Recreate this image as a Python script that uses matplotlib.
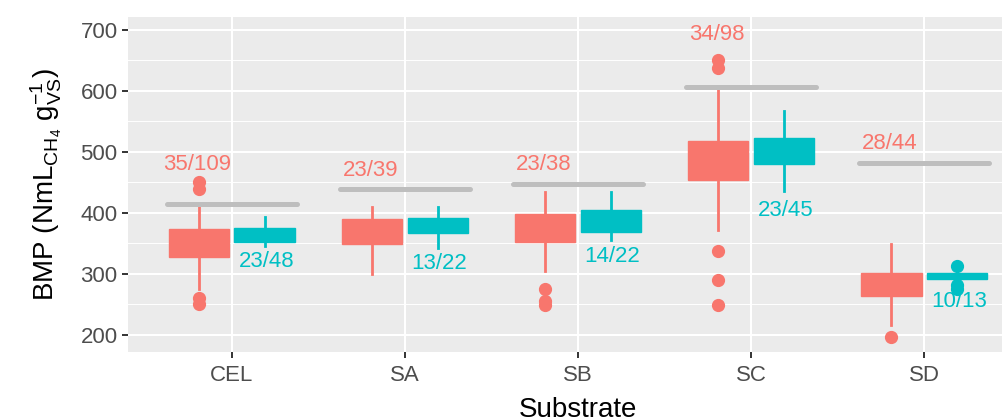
import numpy as np
import matplotlib.pyplot as plt

plt.rcParams["font.family"] = ["Liberation Sans", "DejaVu Sans"]
plt.rcParams["mathtext.fontset"] = "custom"
plt.rcParams["mathtext.rm"] = "Liberation Sans"
plt.rcParams["mathtext.it"] = "Liberation Sans:italic"

substrates = ["CEL", "SA", "SB", "SC", "SD"]

# first group (salmon)
a_q1 = [328, 349, 352, 454, 263]
a_med = [352, 372, 376, 488, 282]
a_q3 = [373, 390, 398, 517, 301]
a_lo = [276, 300, 305, 372, 216]
a_hi = [409, 409, 434, 602, 349]
a_fliers = [[451, 439, 261, 251], [], [275, 256, 249], [651, 637, 338, 290, 249], [197]]
a_counts = ["35/109", "23/39", "23/38", "34/98", "28/44"]
a_label_y = [479, 469, 479, 693, 513]

# second group (teal)
b_q1 = [352, 367, 368, 480, 291]
b_med = [365, 380, 388, 503, 297]
b_q3 = [376, 391, 405, 522, 301]
b_lo = [345, 342, 356, 436, 291]
b_hi = [393, 409, 434, 567, 301]
b_fliers = [[], [], [], [], [313, 281, 276]]
b_counts = ["23/48", "13/22", "14/22", "23/45", "10/13"]
b_label_y = [320, 317, 329, 404, 255]

# reference BMP per substrate
ref_bmp = [415, 439, 448, 606, 481]

RED = "#F8766D"
TEAL = "#00BFC4"


def box_stats(q1, med, q3, lo, hi, fliers):
    return [dict(q1=a, med=m, q3=b, whislo=l, whishi=h, fliers=f)
            for a, m, b, l, h, f in zip(q1, med, q3, lo, hi, fliers)]


def draw_group(ax, stats, pos, color):
    ax.bxp(stats, positions=pos, widths=0.35, patch_artist=True, showcaps=False,
           boxprops=dict(facecolor=color, edgecolor=color, linewidth=1),
           whiskerprops=dict(color=color, linewidth=2),
           medianprops=dict(color=color, linewidth=1),
           flierprops=dict(marker="o", markerfacecolor=color, markeredgecolor=color,
                           markersize=8.5),
           manage_ticks=False, zorder=3)


fig = plt.figure(figsize=(10.02, 4.18), dpi=100)
ax = fig.add_axes([128 / 1002, 1 - 352 / 418, 900 / 1002, 335 / 418])
ax.set_facecolor("#EBEBEB")

x = np.arange(1, len(substrates) + 1)

for xi, r in zip(x, ref_bmp):
    ax.plot([xi - 0.375, xi + 0.375], [r, r], color="#BEBEBE", linewidth=3.6,
            solid_capstyle="round", zorder=4)

draw_group(ax, box_stats(a_q1, a_med, a_q3, a_lo, a_hi, a_fliers), x - 0.19, RED)
draw_group(ax, box_stats(b_q1, b_med, b_q3, b_lo, b_hi, b_fliers), x + 0.19, TEAL)

for xi, t, y in zip(x, a_counts, a_label_y):
    ax.text(xi - 0.2, y, t, color=RED, fontsize=16, ha="center", va="center", zorder=5)
for xi, t, y in zip(x, b_counts, b_label_y):
    ax.text(xi + 0.2, y, t, color=TEAL, fontsize=16, ha="center", va="center", zorder=5)

ax.set_xlim(0.4, 5.6)
ax.set_ylim(172, 721)
ax.set_xticks(x)
ax.set_xticklabels(substrates)
ax.set_yticks([200, 300, 400, 500, 600, 700])
ax.set_yticks([250, 350, 450, 550, 650], minor=True)
ax.grid(which="major", color="white", linewidth=1.5, zorder=0)
ax.grid(which="minor", axis="y", color="white", linewidth=0.7, zorder=0)
ax.set_axisbelow(True)
for s in ax.spines.values():
    s.set_visible(False)
ax.tick_params(which="major", length=4.5, width=1.4, color="#333333",
               labelcolor="#4D4D4D", labelsize=16, pad=3)
ax.tick_params(axis="x", pad=5)
ax.tick_params(which="minor", length=0)

ax.set_xlabel("Substrate", fontsize=20, labelpad=8)
ax.set_ylabel(r"BMP (NmL$_{\mathrm{CH}_4}$ g$_{\mathrm{VS}}^{-1}$)", fontsize=20, labelpad=12)

fig.savefig("out.png", dpi=100)
